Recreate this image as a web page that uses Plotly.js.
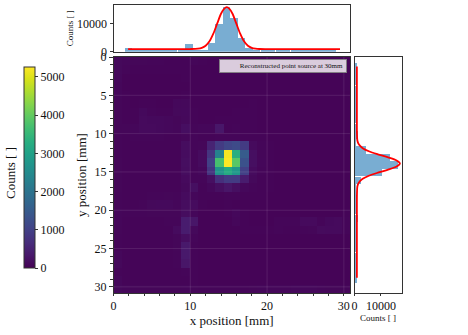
<!DOCTYPE html>
<html>
<head>
<meta charset="utf-8">
<script src="https://cdn.plot.ly/plotly-3.0.1.min.js"></script>
<style>html, body { margin: 0; padding: 0; background: #fff; }</style>
</head>
<body>
<div id="chart" style="width:468px;height:335px;"></div>
<script>
  // 28 x 28 detector cells, 1.1 mm pitch
  var binCenters = [0.55, 1.65, 2.75, 3.85, 4.95, 6.05, 7.15, 8.25, 9.35, 10.45, 11.55, 12.65, 13.75, 14.85,
    15.95, 17.05, 18.15, 19.25, 20.35, 21.45, 22.55, 23.65, 24.75, 25.85, 26.95, 28.05, 29.15, 30.25];
  var counts = [
    [110, 90, 80, 80, 70, 70, 60, 60, 60, 70, 60, 50, 50, 50, 50, 50, 50, 50, 50, 50, 50, 50, 50, 50, 50, 50, 50, 50],
    [110, 70, 60, 60, 60, 60, 60, 60, 60, 50, 50, 50, 50, 50, 50, 50, 50, 50, 50, 50, 50, 50, 50, 50, 50, 50, 50, 50],
    [100, 50, 50, 50, 50, 50, 50, 50, 60, 50, 50, 50, 50, 50, 50, 50, 50, 50, 50, 50, 50, 50, 50, 50, 50, 50, 50, 60],
    [90, 50, 50, 50, 50, 50, 50, 50, 50, 50, 50, 50, 50, 50, 50, 50, 50, 50, 50, 50, 50, 50, 50, 50, 50, 50, 50, 60],
    [90, 60, 50, 50, 50, 50, 50, 50, 60, 50, 50, 50, 50, 50, 50, 50, 50, 50, 50, 50, 50, 50, 50, 50, 50, 50, 50, 50],
    [80, 60, 50, 60, 60, 50, 50, 100, 110, 50, 50, 50, 50, 50, 50, 50, 60, 50, 50, 50, 50, 50, 50, 50, 50, 50, 50, 50],
    [80, 60, 60, 120, 70, 60, 60, 110, 120, 60, 50, 50, 50, 50, 60, 60, 60, 50, 50, 50, 50, 50, 50, 50, 50, 50, 50, 50],
    [80, 60, 60, 130, 120, 120, 100, 80, 110, 60, 50, 50, 60, 60, 60, 60, 60, 50, 50, 50, 50, 50, 50, 50, 50, 50, 50, 50],
    [80, 80, 90, 130, 130, 120, 100, 90, 190, 70, 90, 90, 320, 60, 70, 60, 60, 50, 50, 50, 50, 50, 50, 50, 50, 50, 50, 50],
    [70, 60, 70, 70, 70, 70, 60, 60, 80, 70, 60, 60, 70, 70, 70, 60, 60, 60, 50, 50, 50, 50, 50, 50, 50, 50, 50, 50],
    [70, 60, 60, 60, 60, 60, 60, 60, 170, 70, 80, 500, 900, 1100, 1200, 900, 130, 70, 60, 50, 50, 50, 50, 50, 50, 50, 50, 50],
    [70, 60, 60, 60, 60, 60, 60, 60, 160, 70, 150, 800, 2300, 5200, 3300, 1500, 200, 80, 60, 50, 50, 50, 50, 50, 50, 50, 50, 50],
    [80, 60, 60, 60, 60, 60, 60, 60, 180, 70, 150, 1000, 3700, 5250, 3900, 1300, 200, 90, 60, 50, 50, 50, 50, 50, 50, 50, 50, 50],
    [80, 60, 60, 60, 60, 60, 60, 60, 170, 70, 100, 800, 2700, 3200, 2800, 1000, 150, 70, 60, 50, 50, 50, 50, 50, 50, 50, 50, 50],
    [80, 60, 60, 60, 60, 60, 60, 60, 130, 70, 70, 200, 700, 900, 900, 400, 110, 60, 60, 50, 50, 50, 50, 50, 50, 50, 50, 50],
    [80, 60, 60, 60, 60, 60, 60, 60, 110, 200, 60, 100, 200, 300, 200, 100, 70, 60, 60, 50, 50, 50, 50, 50, 50, 50, 50, 50],
    [70, 60, 60, 60, 70, 70, 80, 70, 150, 90, 60, 60, 60, 70, 70, 60, 60, 60, 50, 50, 50, 50, 50, 50, 50, 50, 50, 50],
    [70, 60, 60, 70, 110, 120, 120, 90, 170, 150, 60, 50, 50, 60, 50, 50, 50, 50, 50, 50, 50, 50, 50, 50, 50, 50, 50, 50],
    [90, 70, 70, 70, 80, 80, 80, 80, 170, 90, 50, 50, 50, 60, 100, 60, 50, 50, 50, 50, 50, 50, 50, 50, 50, 50, 50, 60],
    [90, 60, 60, 60, 60, 60, 70, 70, 400, 300, 50, 50, 50, 50, 90, 60, 50, 50, 50, 70, 70, 70, 130, 130, 70, 120, 130, 70],
    [80, 60, 60, 60, 60, 60, 60, 150, 400, 110, 50, 50, 50, 50, 50, 60, 60, 60, 60, 70, 60, 60, 70, 80, 140, 130, 130, 70],
    [70, 60, 60, 60, 60, 60, 60, 80, 180, 70, 50, 50, 50, 50, 50, 50, 50, 50, 50, 50, 50, 50, 50, 50, 50, 50, 50, 50],
    [70, 60, 60, 60, 60, 60, 60, 80, 350, 60, 50, 50, 50, 50, 50, 50, 50, 50, 50, 50, 50, 50, 50, 50, 50, 50, 50, 50],
    [100, 60, 60, 60, 60, 60, 60, 70, 350, 60, 50, 50, 50, 50, 50, 50, 50, 50, 50, 50, 50, 50, 50, 50, 50, 50, 50, 50],
    [110, 60, 60, 60, 60, 60, 60, 70, 300, 60, 50, 50, 50, 50, 50, 50, 50, 50, 50, 50, 50, 50, 50, 50, 50, 50, 50, 50],
    [70, 60, 60, 60, 60, 60, 60, 60, 70, 60, 50, 50, 50, 50, 50, 50, 50, 50, 50, 50, 50, 50, 50, 50, 50, 50, 50, 50],
    [100, 60, 60, 60, 60, 60, 60, 60, 60, 60, 50, 50, 50, 50, 50, 50, 50, 50, 50, 50, 50, 50, 50, 50, 50, 50, 50, 50],
    [110, 90, 80, 80, 80, 80, 80, 80, 90, 80, 70, 70, 70, 70, 70, 70, 80, 90, 90, 90, 90, 100, 100, 100, 90, 80, 80, 70]
  ];

  // x projection
  var topBinX = [1.95, 2.93, 3.91, 4.9, 5.88, 6.86, 7.84, 8.82, 9.81, 10.79, 11.77, 12.75, 13.73, 14.72,
    15.7, 16.68, 17.66, 18.64, 19.63, 20.61, 21.59, 22.57, 23.55, 24.54, 25.52, 26.5, 27.48, 28.46];
  var topBinCounts = [1200, 500, 450, 450, 450, 450, 500, 600, 2770, 600, 600, 3000, 10000, 16000,
    12000, 5050, 1200, 500, 450, 450, 450, 450, 450, 450, 450, 450, 500, 1000];
  var topFitX = [1.9, 8, 10, 11, 11.5, 12, 12.5, 13, 13.5, 14, 14.4, 14.75, 15.1, 15.5, 16, 16.5, 17, 17.5, 18, 18.5, 19, 20, 22, 29.5];
  var topFitY = [950, 950, 960, 1080, 1380, 2150, 3750, 6470, 10080, 13640, 15370, 16000, 15370, 13640, 10080, 6470, 3750, 2150, 1380, 1080, 970, 950, 950, 950];

  // y projection
  var rightBinY = [1.25, 2.24, 3.23, 4.22, 5.21, 6.2, 7.19, 8.18, 9.17, 10.16, 11.15, 12.14, 13.13, 14.12, 15.11,
    16.1, 17.09, 18.08, 19.07, 20.06, 21.05, 22.04, 23.03, 24.02, 25.01, 26.0, 26.99, 27.98, 28.97];
  var rightBinCounts = [1100, 600, 500, 500, 500, 500, 500, 500, 500, 1450, 600, 4350, 13450, 16600, 10500,
    2350, 500, 500, 500, 500, 1450, 500, 500, 500, 500, 500, 500, 500, 1100];
  var rightFitY = [1.25, 8, 10, 10.9, 11.4, 11.9, 12.3, 12.7, 13.1, 13.5, 13.9, 14.3, 14.7, 15.1, 15.5, 15.9, 16.4, 16.9, 17.9, 20, 28.8];
  var rightFitX = [900, 900, 930, 1080, 1620, 3100, 5430, 8840, 12740, 15940, 17200, 15940, 12740, 8840, 5430, 3100, 1620, 1080, 930, 900, 900];

  var gridX = [10, 20, 30];
  var gridY = [5, 10, 15, 20, 25, 30];
  var colorbarTicks = [0, 1000, 2000, 3000, 4000, 5000];

  var W = 468, H = 335;
  var serif = 'Liberation Serif';
  var ink = '#333';
  var barColor = 'rgba(31,119,180,0.6)';

  function xDom(a, b) { return [a / W, b / W]; }
  function yDom(top, bottom) { return [1 - bottom / H, 1 - top / H]; }

  var data = [
    {
      type: 'heatmap', x: binCenters, y: binCenters, z: counts,
      colorscale: 'Viridis', zmin: 0, zmax: 5260, xaxis: 'x', yaxis: 'y',
      colorbar: {
        x: 23.5 / W, xanchor: 'left', xref: 'paper', y: 1 - 268 / H, yanchor: 'bottom', yref: 'paper',
        len: 201 / H, thickness: 10.5, xpad: 0, ypad: 0,
        outlinecolor: ink, outlinewidth: 1,
        tickvals: colorbarTicks, ticks: 'outside', ticklen: 3, tickcolor: ink,
        tickfont: { family: serif, size: 12, color: '#111' }
      }
    },
    { type: 'bar', x: topBinX, y: topBinCounts, width: 0.96, marker: { color: barColor }, xaxis: 'x2', yaxis: 'y2' },
    { type: 'scatter', mode: 'lines', x: topFitX, y: topFitY, line: { color: '#f00', width: 1.8, shape: 'spline', smoothing: 0.8 }, xaxis: 'x2', yaxis: 'y2' },
    { type: 'bar', orientation: 'h', x: rightBinCounts, y: rightBinY, width: 0.97, marker: { color: barColor }, xaxis: 'x3', yaxis: 'y3' },
    { type: 'scatter', mode: 'lines', x: rightFitX, y: rightFitY, line: { color: '#f00', width: 1.8, shape: 'spline', smoothing: 0.8 }, xaxis: 'x3', yaxis: 'y3' }
  ];

  var shapes = [];
  gridX.forEach(function (v) {
    shapes.push({ type: 'line', xref: 'x', yref: 'y domain', x0: v, x1: v, y0: 0, y1: 1, line: { color: 'rgba(255,255,255,0.1)', width: 1 } });
  });
  gridY.forEach(function (v) {
    shapes.push({ type: 'line', xref: 'x domain', yref: 'y', x0: 0, x1: 1, y0: v, y1: v, line: { color: 'rgba(255,255,255,0.1)', width: 1 } });
  });

  var boxAxis = { showline: true, linecolor: ink, linewidth: 1, mirror: true, showgrid: false, zeroline: false };
  var tickFont = { family: serif, size: 12, color: '#111' };

  var layout = {
    width: W, height: H, showlegend: false, bargap: 0,
    margin: { l: 0, r: 0, t: 0, b: 0 },
    paper_bgcolor: '#fff', plot_bgcolor: '#fff',
    font: { family: serif, color: '#111' },
    xaxis: Object.assign({}, boxAxis, {
      domain: xDom(113.5, 350), range: [0, 30.8], anchor: 'y', tickvals: [0, 10, 20, 30],
      ticks: 'outside', ticklen: 2, tickcolor: ink, tickfont: tickFont, layer: 'above traces',
      minor: { dtick: 2, ticks: 'outside', ticklen: 2, tickcolor: ink },
      title: { text: 'x position [mm]', font: { family: serif, size: 13, color: '#111' }, standoff: 3 }
    }),
    yaxis: Object.assign({}, boxAxis, {
      domain: yDom(57, 293), range: [30.8, 0], anchor: 'x', tickvals: [0, 5, 10, 15, 20, 25, 30],
      ticks: 'outside', ticklen: 3.5, tickcolor: ink, tickfont: tickFont, layer: 'above traces',
      minor: { dtick: 1, ticks: 'outside', ticklen: 2.5, tickcolor: ink },
      title: { text: 'y position [mm]', font: { family: serif, size: 13, color: '#111' }, standoff: 5 }
    }),
    xaxis2: Object.assign({}, boxAxis, {
      domain: xDom(113.5, 350), range: [0, 30.8], anchor: 'y2', showticklabels: false, ticks: ''
    }),
    yaxis2: Object.assign({}, boxAxis, {
      domain: yDom(5, 51.7), range: [0, 16800], anchor: 'x2', tickvals: [0, 10000], tickformat: 'd',
      ticks: 'outside', ticklen: 3, tickcolor: ink, tickfont: tickFont,
      title: { text: 'Counts [ ]', font: { family: serif, size: 9, color: '#111' }, standoff: 1 }
    }),
    xaxis3: Object.assign({}, boxAxis, {
      domain: xDom(354.5, 401.5), range: [0, 17800], anchor: 'y3', tickvals: [0, 10000], tickformat: 'd',
      ticks: 'outside', ticklen: 2, tickcolor: ink, tickfont: tickFont,
      title: { text: 'Counts [ ]', font: { family: serif, size: 9, color: '#111' }, standoff: 2 }
    }),
    yaxis3: Object.assign({}, boxAxis, {
      domain: yDom(57, 293), range: [30.8, 0], anchor: 'x3', showticklabels: false, ticks: ''
    }),
    shapes: shapes,
    annotations: [
      {
        text: 'Counts [ ]', textangle: -90, xref: 'paper', yref: 'paper', x: 10 / W, xanchor: 'center', y: 1 - 173 / H, yanchor: 'middle',
        showarrow: false, font: { family: serif, size: 13, color: '#111' }
      },
      {
        text: 'Reconstructed point source at 30mm\u00a0\u00a0', xref: 'paper', yref: 'paper',
        x: 347 / W, xanchor: 'right', y: 1 - 66.3 / H, yanchor: 'middle',
        width: 126, height: 11.5, align: 'right', showarrow: false,
        bgcolor: 'rgba(255,255,255,0.8)', bordercolor: 'rgba(130,130,130,0.9)', borderwidth: 1, borderpad: 0,
        font: { family: serif, size: 7, color: '#111' }
      }
    ]
  };

  Plotly.newPlot('chart', data, layout, { displayModeBar: false, staticPlot: true });
</script>
</body>
</html>
